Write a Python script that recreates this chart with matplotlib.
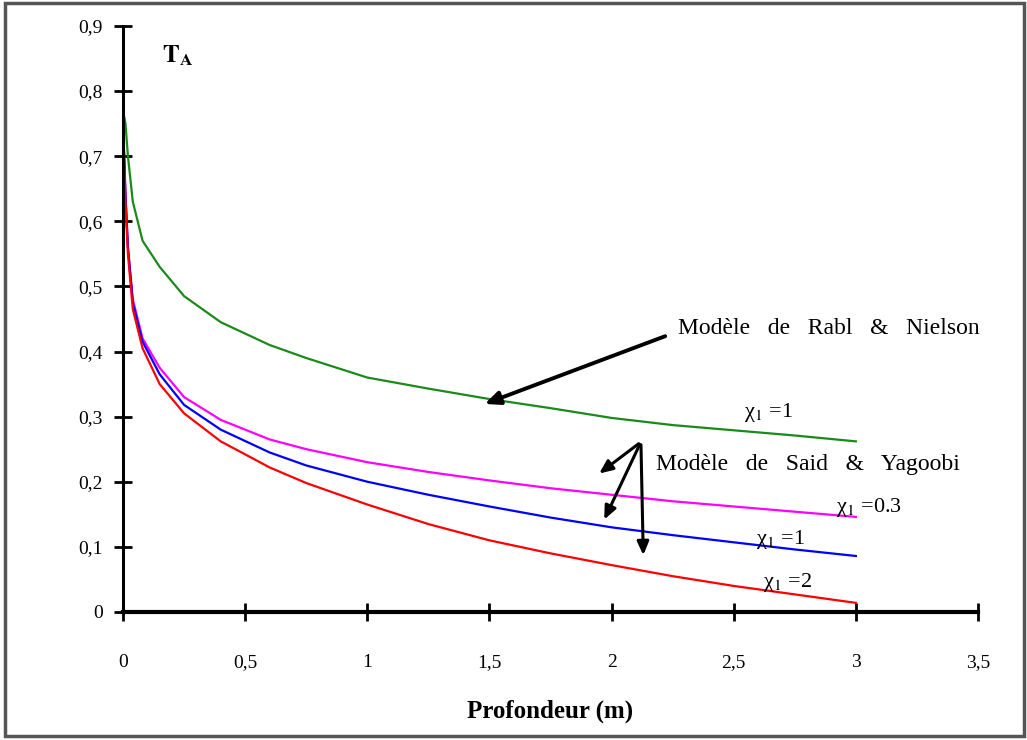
import matplotlib
matplotlib.use("Agg")
import matplotlib.pyplot as plt
from matplotlib.patches import Rectangle

plt.rcParams['font.family'] = ['Liberation Serif', 'DejaVu Serif']
plt.rcParams['mathtext.fontset'] = 'stix'

# depth (m)
depth = [0, 0.01, 0.02, 0.04, 0.08, 0.15, 0.25, 0.4, 0.6, 0.75, 1.0,
         1.25, 1.5, 1.75, 2.0, 2.25, 2.5, 2.75, 3.0]

# Rabl & Nielson, chi1 = 1
rabl = [0.77, 0.75, 0.70, 0.63, 0.57, 0.53, 0.485, 0.445, 0.41, 0.39, 0.36,
        0.343, 0.327, 0.313, 0.298, 0.287, 0.279, 0.271, 0.262]
# Said & Yagoobi
said_03 = [0.75, 0.64, 0.56, 0.48, 0.42, 0.375, 0.33, 0.295, 0.265, 0.25, 0.23,
           0.215, 0.202, 0.19, 0.18, 0.17, 0.162, 0.154, 0.146]
said_1 = [0.75, 0.64, 0.56, 0.475, 0.415, 0.365, 0.318, 0.28, 0.245, 0.225, 0.2,
          0.18, 0.162, 0.145, 0.13, 0.118, 0.107, 0.096, 0.086]
said_2 = [0.75, 0.63, 0.55, 0.465, 0.405, 0.35, 0.305, 0.262, 0.222, 0.198, 0.165,
          0.135, 0.11, 0.09, 0.072, 0.055, 0.04, 0.027, 0.014]

xticks = [0, 0.5, 1, 1.5, 2, 2.5, 3, 3.5]
yticks = [0, 0.1, 0.2, 0.3, 0.4, 0.5, 0.6, 0.7, 0.8, 0.9]

fig = plt.figure(figsize=(10.27, 7.40), dpi=100)
ax = fig.add_axes([0.1198, 0.173, 0.8325, 0.792])

ax.plot(depth, rabl, color='#1a8a1a', lw=1.6)
ax.plot(depth, said_03, color='#ff00ff', lw=1.6)
ax.plot(depth, said_1, color='#0000ff', lw=1.6)
ax.plot(depth, said_2, color='#ff0000', lw=1.6)

ax.set_xlim(0, 3.5)
ax.set_ylim(0, 0.9)
ax.set_xticks(xticks)
ax.set_yticks(yticks)
ax.set_xticklabels([str(t).replace('.', ',') for t in xticks])
ax.set_yticklabels(['0'] + [str(t).replace('.', ',') for t in yticks[1:]])
ax.spines['top'].set_visible(False)
ax.spines['right'].set_visible(False)
ax.spines['left'].set_linewidth(2.2)
ax.spines['bottom'].set_linewidth(3)
ax.tick_params(axis='both', direction='inout', length=13, width=2, labelsize=14)
ax.tick_params(axis='x', pad=24)
ax.tick_params(axis='y', pad=8)
ax.set_xlabel('Profondeur (m)', fontsize=18, fontweight='bold', labelpad=20)

ax.text(0.16, 0.855, r'$\mathbf{T_A}$', fontsize=18, va='center')

arrow = dict(arrowstyle='-|>,head_width=0.4,head_length=0.9', color='black', lw=2.8)
ax.annotate('', xy=(1.47, 0.318), xytext=(2.23, 0.425), arrowprops=arrow)
ax.text(2.27, 0.436, 'Modèle   de   Rabl   &   Nielson', fontsize=17, va='center')
ax.text(2.54, 0.306, 'χ$_1$ =1', fontsize=16, va='center')

arrow2 = dict(arrowstyle='-|>,head_width=0.35,head_length=0.8', color='black', lw=2.2)
for tip in [(1.94, 0.21), (1.965, 0.138), (2.13, 0.083)]:
    ax.annotate('', xy=tip, xytext=(2.12, 0.261), arrowprops=arrow2)
ax.text(2.18, 0.226, 'Modèle   de   Said   &   Yagoobi', fontsize=17, va='center')
ax.text(2.92, 0.16, 'χ$_1$ =0.3', fontsize=16, va='center')
ax.text(2.59, 0.111, 'χ$_1$ =1', fontsize=16, va='center')
ax.text(2.62, 0.046, 'χ$_1$ =2', fontsize=16, va='center')

fig.patches.append(Rectangle((0.005, 0.006), 0.992, 0.99, transform=fig.transFigure,
                             fill=False, edgecolor='#555555', lw=2.5))

fig.savefig('out.png', dpi=100)
